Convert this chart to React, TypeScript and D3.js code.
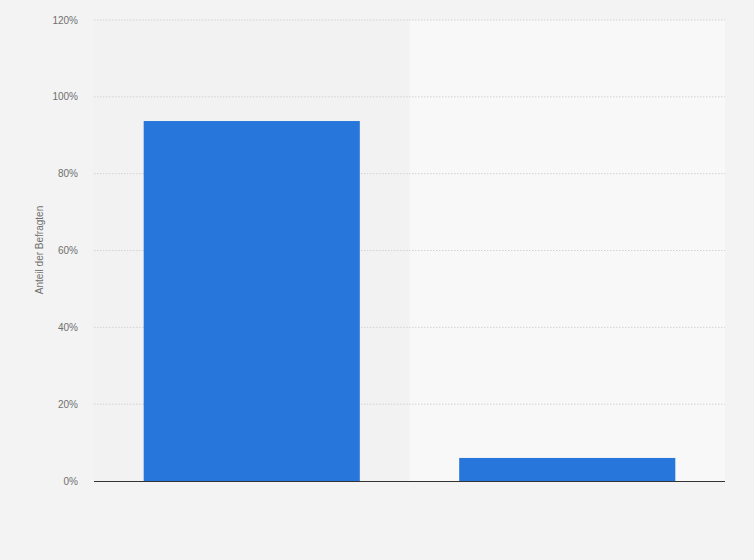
import React from "react";
import * as d3 from "d3";

const categories = ["Ja", "Nein"];
const values = [93.7, 6];
const yTicks = [0, 20, 40, 60, 80, 100, 120];

export default function App() {
  const W = 754, H = 560;
  const left = 94, right = 725, top = 20, bottom = 481;
  const x = d3.scaleBand<string>().domain(categories).range([left, right]).padding(0);
  const y = d3.scaleLinear().domain([0, 120]).range([bottom, top]);
  const bw = x.bandwidth();
  const barW = bw * 0.685;
  const bandFills = ["#f2f2f2", "#f8f8f8"];
  return (
    <svg width={W} height={H} style={{ position: "absolute", left: 0, top: 0, display: "block" }}
      fontFamily="'Liberation Sans', Arial, sans-serif">
      <rect x={0} y={0} width={W} height={H} fill="#f3f3f3" />
      {categories.map((c, i) => (
        <rect key={c} x={x(c)} y={top} width={bw} height={bottom - top} fill={bandFills[i]} />
      ))}
      {yTicks.map((t) => (
        <g key={t}>
          {t > 0 && (
            <line x1={left} x2={right} y1={y(t)} y2={y(t)} stroke="#d2d2d2" strokeWidth={1} strokeDasharray="1.5,1.5" />
          )}
          <text x={78} y={y(t)} dy="0.35em" textAnchor="end" fontSize={10} fill="#707070">{t}%</text>
        </g>
      ))}
      {categories.map((c, i) => (
        <rect key={c} x={(x(c) as number) + (bw - barW) / 2} y={y(values[i])} width={barW}
          height={bottom - y(values[i])} fill="#2776db" />
      ))}
      <line x1={left} x2={right} y1={bottom + 0.5} y2={bottom + 0.5} stroke="#333" strokeWidth={1.2} />
      <text transform={`translate(43,250) rotate(-90)`} textAnchor="middle" fontSize={10} fill="#707070">
        Anteil der Befragten
      </text>
    </svg>
  );
}
